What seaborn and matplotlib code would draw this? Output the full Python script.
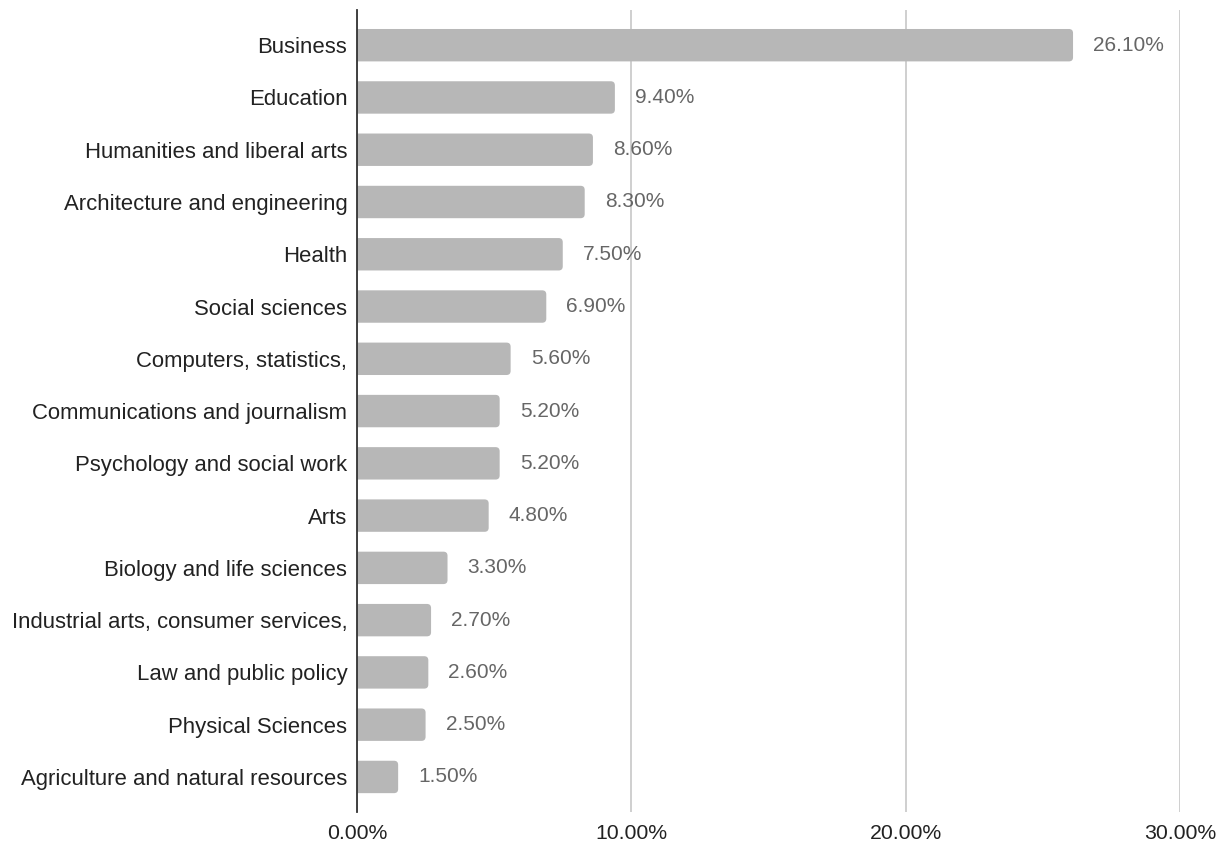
import matplotlib
matplotlib.use("Agg")
import matplotlib.pyplot as plt
from matplotlib.patches import FancyBboxPatch
import seaborn as sns
import pandas as pd

majors = [
    "Business",
    "Education",
    "Humanities and liberal arts",
    "Architecture and engineering",
    "Health",
    "Social sciences",
    "Computers, statistics,",
    "Communications and journalism",
    "Psychology and social work",
    "Arts",
    "Biology and life sciences",
    "Industrial arts, consumer services,",
    "Law and public policy",
    "Physical Sciences",
    "Agriculture and natural resources",
]
shares = [26.1, 9.4, 8.6, 8.3, 7.5, 6.9, 5.6, 5.2, 5.2, 4.8, 3.3, 2.7, 2.6, 2.5, 1.5]
x_ticks = [0, 10, 20, 30]

df = pd.DataFrame({"major": majors, "share": shares})

sns.set_theme(style="white")
plt.rcParams["font.family"] = ["Liberation Sans", "DejaVu Sans"]

fig = plt.figure(figsize=(12.31, 8.48), dpi=100)
ax = fig.add_axes([0.29, 0.0425, 0.6686, 0.9455])

sns.barplot(data=df, x="share", y="major", orient="h", color="#b7b7b7",
            saturation=1, width=0.62, ax=ax, zorder=3)

ax.set_xlim(0, 30)
ax.set_ylim(len(majors) - 1 + 0.67, -0.67)

# Swap square bars for ones with rounded ends
bars = list(ax.patches)
for bar in bars:
    x0, y0 = bar.get_x(), bar.get_y()
    w, h = bar.get_width(), bar.get_height()
    rounded = FancyBboxPatch((x0 - 0.5, y0), w + 0.5, h,
                             boxstyle="round,pad=0,rounding_size=0.15",
                             mutation_aspect=0.52,
                             facecolor="#b7b7b7", edgecolor="none", zorder=3)
    ax.add_patch(rounded)
    bar.set_visible(False)

for i, v in enumerate(shares):
    ax.annotate(f"{v:.2f}%", xy=(v, i), xytext=(14.5, 0), textcoords="offset points",
                ha="left", va="center", fontsize=15, color="#666666")

ax.set_xticks(x_ticks)
ax.set_xticklabels([f"{t:.2f}%" for t in x_ticks], fontsize=15.3, color="#222222")
ax.tick_params(axis="x", length=0, pad=9)
ax.tick_params(axis="y", length=0, pad=7, labelsize=15.9, labelcolor="#222222")

ax.xaxis.grid(True, color="#cccccc", linewidth=1.3, zorder=0)
ax.yaxis.grid(False)
ax.set_axisbelow(True)
for side in ["top", "right", "bottom"]:
    ax.spines[side].set_visible(False)
ax.spines["left"].set_color("#333333")
ax.spines["left"].set_linewidth(1.3)
ax.spines["left"].set_zorder(5)
ax.set_xlabel("")
ax.set_ylabel("")

fig.savefig("out.png", dpi=100, facecolor="white")
